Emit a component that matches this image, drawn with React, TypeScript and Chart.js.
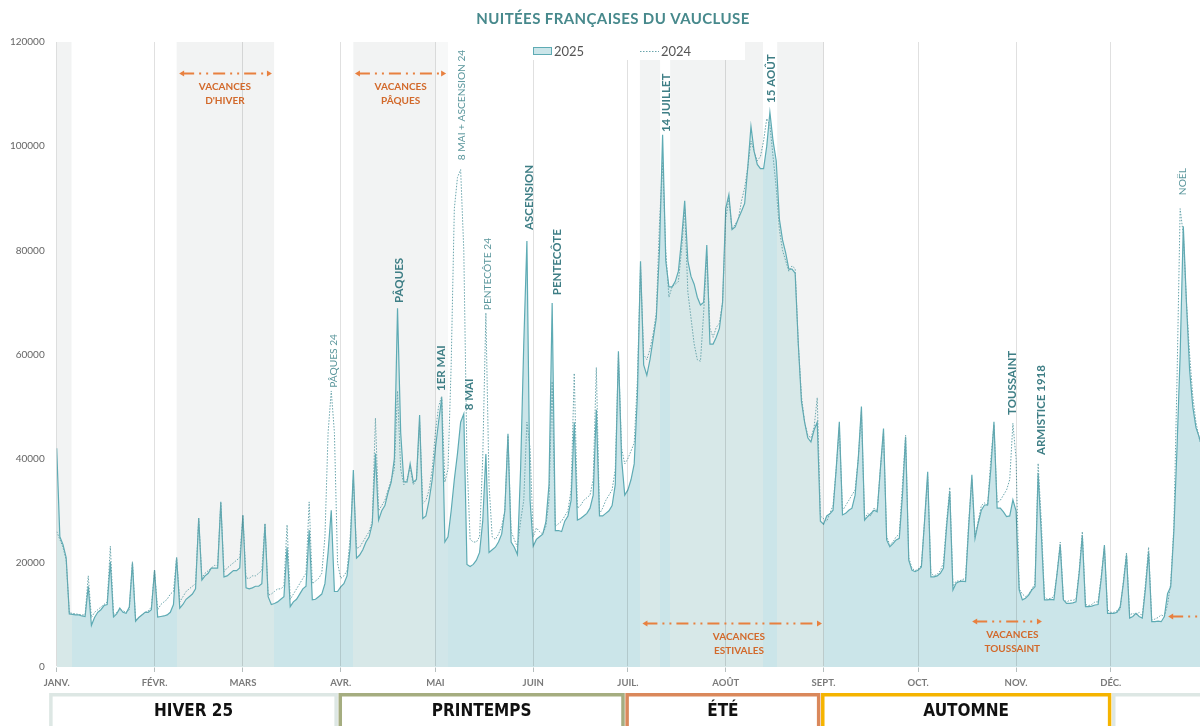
import React, { useEffect, useRef } from "react";
import { Chart, registerables } from "chart.js";

Chart.register(...registerables);

const TITLE = "NUITÉES FRANÇAISES DU VAUCLUSE";
const MONTH_LABELS = ["JANV.", "FÉVR.", "MARS", "AVR.", "MAI", "JUIN", "JUIL.", "AOÛT", "SEPT.", "OCT.", "NOV.", "DÉC."];
const MONTH_START_DAYS = [0, 31, 59, 90, 120, 151, 181, 212, 243, 273, 304, 334];
const Y_TICKS = [0, 20000, 40000, 60000, 80000, 100000, 120000];
const LABEL_2025 = "2025";
const LABEL_2024 = "2024";

// daily values, index 0 = 1 January
const NUITEES_2025 = [
  42000, 25000, 23500, 21000, 10200, 10100, 10000,
  10000, 9800, 9700, 15500, 8000, 9500, 10500,
  11000, 11800, 12000, 20200, 9600, 10200, 11300,
  10500, 10300, 11500, 20000, 8800, 9500, 10000,
  10500, 10500, 11000, 18600, 9600, 9700, 9800,
  10000, 10500, 12000, 21000, 11300, 12000, 13000,
  13500, 14000, 15000, 28600, 16700, 17500, 18000,
  19000, 19000, 19000, 31700, 17300, 17500, 18000,
  18500, 18500, 19000, 29200, 15200, 15000, 15200,
  15500, 15500, 16000, 27400, 13500, 12000, 12200,
  12500, 13000, 13500, 23000, 11600, 12500, 13000,
  14000, 15000, 15500, 26300, 12900, 13000, 13500,
  14000, 16000, 22000, 30100, 14500, 14500, 15400,
  16000, 17500, 23000, 37800, 20900, 21500, 22500,
  24000, 25000, 27500, 41000, 28200, 30000, 31000,
  33500, 35500, 40000, 68900, 45000, 35600, 35500,
  39000, 35500, 36000, 48400, 28500, 29000, 32000,
  36000, 42000, 47000, 51700, 24000, 25000, 30000,
  36000, 41000, 47000, 48600, 19700, 19300, 19700,
  20500, 22000, 28000, 40900, 22000, 22500, 23000,
  24000, 25500, 30000, 44800, 24000, 23000, 21600,
  38000, 62000, 81800, 32000, 23200, 24500, 25000,
  25500, 27800, 35000, 69900, 26200, 26200, 26000,
  28000, 29000, 32000, 47000, 28200, 28500, 29000,
  29500, 30500, 33000, 49400, 29000, 29000, 29500,
  30000, 31000, 35000, 60600, 40000, 33000, 34000,
  36000, 39000, 52000, 77900, 58000, 56000, 59000,
  63000, 67000, 80000, 102200, 78000, 73000, 73000,
  74000, 76000, 82000, 89500, 78000, 75000, 73500,
  71000, 69500, 70000, 81000, 62000, 62000, 63300,
  65000, 70000, 88000, 90700, 84000, 84500, 86100,
  87500, 89000, 96000, 103800, 99000, 96500, 95700,
  95700, 100000, 106500, 101000, 97200, 86000, 82000,
  79500, 76400, 76400, 75600, 62000, 51000, 47000,
  44000, 43200, 45500, 47000, 28000, 27400, 29000,
  29400, 30100, 38000, 47100, 29200, 29500, 30100,
  30500, 33000, 40000, 50000, 28200, 28900, 29500,
  30100, 29800, 38000, 45800, 24400, 23100, 23700,
  24400, 24700, 33000, 44200, 20500, 18600, 18300,
  18600, 19200, 28000, 37500, 17300, 17300, 17500,
  18000, 19000, 27000, 33700, 14800, 16100, 16400,
  16500, 16400, 27000, 36900, 24700, 27600, 30100,
  31100, 31100, 38000, 47100, 30500, 30500, 29800,
  28900, 29000, 32100, 30000, 14800, 12900, 13200,
  13800, 14800, 15400, 37200, 25600, 12900, 12900,
  13000, 12900, 18000, 23400, 12900, 12200, 12200,
  12300, 12500, 18000, 25300, 11600, 11600, 11700,
  11900, 12000, 17000, 23400, 10300, 10300, 10300,
  10500, 11600, 16000, 21500, 9400, 9700, 10300,
  9700, 9400, 15000, 22100, 8700, 8700, 8800,
  8700, 9700, 14100, 15400, 26000, 42000, 60000,
  84600, 70000, 57000, 50000, 46000, 44200, 42000,
  40000,
];

const NUITEES_2024 = [
  26000, 24500, 23000, 20500, 10400, 10300, 10200,
  10100, 10000, 10000, 17500, 9500, 10500, 11000,
  11500, 12000, 12500, 23200, 10000, 10500, 11000,
  10800, 10500, 11000, 20200, 9000, 9500, 10000,
  10500, 10800, 11500, 18500, 11000, 12000, 12500,
  13000, 14000, 14500, 21000, 12500, 13500, 14500,
  15000, 15500, 16000, 28500, 17000, 18000, 18500,
  19000, 19500, 19500, 31500, 18300, 19000, 19500,
  20000, 20500, 21000, 29000, 17100, 17000, 17500,
  17500, 18000, 18500, 27600, 13800, 14000, 14500,
  15000, 15000, 15500, 27300, 13000, 14000, 15000,
  16000, 17000, 18000, 31700, 16000, 16500, 17000,
  18000, 25000, 45000, 53000, 45000, 20000, 17000,
  17500, 18500, 25000, 36000, 22800, 23000, 24000,
  25000, 26000, 28000, 47800, 30000, 31000, 32000,
  34000, 36000, 38000, 53000, 38000, 35000, 36000,
  38500, 35000, 36000, 47000, 31400, 32000, 34000,
  38000, 45000, 50000, 52000, 35500, 38000, 58000,
  88000, 94000, 95500, 80000, 40000, 24500, 24000,
  24000, 25000, 40000, 68000, 35000, 25000, 24500,
  25500, 27000, 30000, 44400, 26000, 24500, 23000,
  28000, 32000, 47000, 42000, 25000, 26700, 26000,
  25500, 27000, 32000, 54800, 27000, 27500, 28000,
  29000, 30000, 34000, 56400, 30500, 31000, 32000,
  32500, 33000, 36000, 57500, 29400, 30500, 32000,
  33000, 34000, 38000, 60000, 42000, 39000, 40000,
  41500, 43000, 55000, 77000, 60000, 59000, 61000,
  64000, 68000, 85000, 97000, 80000, 71000, 73000,
  73500, 74000, 80000, 88000, 72000, 67000, 62000,
  59000, 58700, 68000, 79000, 65000, 63300, 65200,
  66000, 70000, 86000, 90000, 84000, 85000, 86000,
  89500, 92000, 96000, 101000, 99000, 97200, 98000,
  101000, 105300, 104000, 98000, 92000, 84000, 80000,
  78000, 76000, 77000, 76500, 62000, 52000, 47000,
  44500, 44000, 46000, 51700, 29000, 28500, 28000,
  29500, 31000, 38000, 46000, 30000, 31000, 32000,
  33000, 34000, 40000, 49000, 28500, 29500, 29000,
  30500, 30000, 38000, 45000, 25000, 23500, 24000,
  25000, 25500, 35000, 44500, 21000, 19000, 18500,
  18800, 19500, 28000, 36500, 18000, 17500, 17800,
  18500, 20000, 28000, 34500, 15500, 16500, 16500,
  16800, 17000, 28000, 36000, 25000, 28000, 31000,
  31500, 31000, 40000, 46500, 31500, 32000, 33000,
  34000, 36000, 46800, 40000, 15000, 14000, 13500,
  14000, 15000, 16000, 39100, 28000, 13500, 13000,
  13200, 13500, 18000, 24000, 13000, 12500, 12800,
  12800, 13000, 18500, 26000, 12000, 11800, 12000,
  12500, 12500, 17500, 23000, 11000, 10500, 10500,
  10800, 11000, 16500, 22000, 10000, 10300, 10000,
  10500, 9800, 16000, 23000, 9000, 9200, 9500,
  10000, 9700, 12000, 16000, 27000, 55000, 88000,
  83000, 70000, 60000, 52000, 47000, 44000, 42000,
  40000,
];

// school holiday shading, in days of the year
const VACATION_BANDS = [
  { from: 0, to: 4.7, tone: "main" },
  { from: 38, to: 68.9, tone: "main" },
  { from: 94, to: 119.9, tone: "main" },
  { from: 119.9, to: 124, tone: "light" },
  { from: 184.8, to: 191.2, tone: "main" },
  { from: 194.4, to: 223.8, tone: "main" },
  { from: 228.3, to: 243, tone: "main" },
];

const HOLIDAY_LABELS = [
  { text: "PÂQUES 24", day: 87.6, base: 53600, bold: false },
  { text: "PÂQUES", day: 108.5, base: 69900, bold: true },
  { text: "1ER MAI", day: 121.6, base: 53000, bold: true },
  { text: "8 MAI + ASCENSION 24", day: 128.3, base: 97300, bold: false },
  { text: "8 MAI", day: 130.5, base: 49300, bold: true },
  { text: "PENTECÔTE 24", day: 136.4, base: 68500, bold: false },
  { text: "ASCENSION", day: 149.6, base: 83900, bold: true },
  { text: "PENTECÔTE", day: 158.5, base: 71400, bold: true },
  { text: "14 JUILLET", day: 193.1, base: 102700, bold: true },
  { text: "15 AOÛT", day: 226.2, base: 108300, bold: true },
  { text: "TOUSSAINT", day: 302.6, base: 48400, bold: true },
  { text: "ARMISTICE 1918", day: 311.7, base: 40700, bold: true },
  { text: "NOËL", day: 356.5, base: 90600, bold: false },
];

const VACATION_ARROWS = [
  { from: 38.8, to: 68.2, value: 114000, textDay: 53.3, lines: ["VACANCES", "D'HIVER"] },
  { from: 94.5, to: 123.4, value: 114000, textDay: 109, lines: ["VACANCES", "PÂQUES"] },
  { from: 185.6, to: 242.5, value: 8450, textDay: 216.2, lines: ["VACANCES", "ESTIVALES"] },
  { from: 290.1, to: 312.2, value: 8830, textDay: 302.8, lines: ["VACANCES", "TOUSSAINT"] },
  { from: 352.2, to: 372, value: 9800, textDay: 380, lines: [] },
];

const SEASONS = [
  { label: "HIVER 25", from: -2.4, to: 89.1, color: "#dde7e4" },
  { label: "PRINTEMPS", from: 89.3, to: 180, color: "#a5ad80" },
  { label: "ÉTÉ", from: 180.2, to: 242, color: "#da885b" },
  { label: "AUTOMNE", from: 242.2, to: 334.2, color: "#f5b400" },
  { label: "", from: 334.4, to: 372, color: "#dde7e4" },
];

const FILL_2025 = "#cbe5e9";
const LINE_2025 = "#5eabb4";
const LINE_2024 = "#6aa5ac";
const BAND_BG: Record<string, string> = { main: "#f2f3f3", light: "#f7f8f8" };
const BAND_FILL: Record<string, string> = { main: "#d7e8e8", light: "#d1e6e9" };
const TEAL_TEXT = "#3e7e85";
const TEAL_THIN = "#5a969c";
const ORANGE = "#e8803f";
const ORANGE_TEXT = "#d2692b";

function fillGradient(chart: any) {
  const area = chart.chartArea;
  if (!area) return FILL_2025;
  const xs = chart.scales.x;
  const w = area.right - area.left;
  const g = chart.ctx.createLinearGradient(area.left, 0, area.right, 0);
  const clamp = (t: number) => Math.min(1, Math.max(0, t));
  g.addColorStop(0, FILL_2025);
  const sorted = [...VACATION_BANDS].sort((a, b) => a.from - b.from);
  for (const b of sorted) {
    const t0 = clamp((xs.getPixelForValue(b.from) - area.left) / w);
    const t1 = clamp((xs.getPixelForValue(b.to) - area.left) / w);
    g.addColorStop(t0, FILL_2025);
    g.addColorStop(t0, BAND_FILL[b.tone]);
    g.addColorStop(t1, BAND_FILL[b.tone]);
    g.addColorStop(t1, FILL_2025);
  }
  g.addColorStop(1, FILL_2025);
  return g;
}

function arrowHead(ctx: CanvasRenderingContext2D, x: number, y: number, dir: number) {
  ctx.beginPath();
  ctx.moveTo(x, y);
  ctx.lineTo(x - dir * 5, y - 3);
  ctx.lineTo(x - dir * 5, y + 3);
  ctx.closePath();
  ctx.fill();
}

const decorPlugin = {
  id: "decor",
  beforeDraw(chart: any) {
    const { ctx, chartArea } = chart;
    const xs = chart.scales.x;
    ctx.save();
    for (const b of VACATION_BANDS) {
      const x0 = xs.getPixelForValue(b.from);
      const x1 = xs.getPixelForValue(b.to);
      ctx.fillStyle = BAND_BG[b.tone];
      ctx.fillRect(x0, chartArea.top, x1 - x0, chartArea.bottom - chartArea.top);
    }
    ctx.restore();
  },
  afterDraw(chart: any) {
    const { ctx, chartArea } = chart;
    const xs = chart.scales.x;
    const ys = chart.scales.y;
    ctx.save();

    // clear a stray line at the very top edge
    ctx.fillStyle = "#ffffff";
    ctx.fillRect(0, 0, chart.width, 4);

    // holiday labels (vertical)
    for (const l of HOLIDAY_LABELS) {
      const x = xs.getPixelForValue(l.day);
      const y = ys.getPixelForValue(l.base);
      ctx.save();
      ctx.translate(x, y);
      ctx.rotate(-Math.PI / 2);
      ctx.font = l.bold ? "bold 11.5px Lato" : "10.2px Lato";
      ctx.fillStyle = l.bold ? TEAL_TEXT : TEAL_THIN;
      ctx.textAlign = "left";
      ctx.textBaseline = "middle";
      ctx.fillText(l.text, 0, 0.5);
      ctx.restore();
    }

    // vacation arrows
    for (const a of VACATION_ARROWS) {
      const x0 = xs.getPixelForValue(a.from);
      const x1 = xs.getPixelForValue(a.to);
      const y = Math.round(ys.getPixelForValue(a.value)) + 0.5;
      ctx.strokeStyle = ORANGE;
      ctx.fillStyle = ORANGE;
      ctx.lineWidth = 2;
      ctx.setLineDash([12, 5, 2, 5, 2, 5]);
      ctx.beginPath();
      ctx.moveTo(x0 + 3, y);
      ctx.lineTo(x1 - 3, y);
      ctx.stroke();
      ctx.setLineDash([]);
      arrowHead(ctx, x0, y, -1);
      arrowHead(ctx, x1, y, 1);
      const tx = xs.getPixelForValue(a.textDay);
      ctx.font = "bold 10px Lato";
      ctx.fillStyle = ORANGE_TEXT;
      ctx.textAlign = "center";
      ctx.textBaseline = "middle";
      a.lines.forEach((t, i) => ctx.fillText(t, tx, y + 13 + i * 14));
    }

    // legend
    ctx.fillStyle = "#ffffff";
    ctx.fillRect(530, chartArea.top - 1, 215, 19);
    ctx.fillStyle = FILL_2025;
    ctx.fillRect(533, 47, 19, 8);
    ctx.strokeStyle = LINE_2025;
    ctx.lineWidth = 1;
    ctx.strokeRect(533.5, 47.5, 18, 7);
    ctx.font = "13px Lato";
    ctx.fillStyle = "#555555";
    ctx.textAlign = "left";
    ctx.textBaseline = "middle";
    ctx.fillText(LABEL_2025, 554, 51.5);
    ctx.strokeStyle = LINE_2024;
    ctx.setLineDash([1.5, 1.5]);
    ctx.beginPath();
    ctx.moveTo(640, 51.5);
    ctx.lineTo(659, 51.5);
    ctx.stroke();
    ctx.setLineDash([]);
    ctx.fillText(LABEL_2024, 661, 51.5);

    // title
    ctx.font = "bold 15px Lato";
    ctx.letterSpacing = "0.4px";
    ctx.fillStyle = "#47898c";
    ctx.textAlign = "center";
    ctx.fillText(TITLE, 613, 19.5);
    ctx.letterSpacing = "0px";

    // seasons
    const top = 693;
    for (const s of SEASONS) {
      const x0 = xs.getPixelForValue(s.from);
      const x1 = xs.getPixelForValue(s.to);
      ctx.strokeStyle = s.color;
      ctx.lineWidth = 3.5;
      ctx.strokeRect(x0 + 1.75, top + 1.75, x1 - x0 - 3.5, 60);
      if (s.label) {
        ctx.font = 'bold 17px "DejaVu Sans Condensed", "Liberation Sans Narrow", sans-serif';
        ctx.fillStyle = "#111111";
        ctx.textAlign = "center";
        ctx.textBaseline = "middle";
        ctx.fillText(s.label, (x0 + x1) / 2, 712);
      }
    }
    ctx.restore();
  },
};

export default function App() {
  const ref = useRef<HTMLCanvasElement>(null);
  useEffect(() => {
    const canvas = ref.current;
    if (!canvas) return;
    const chart = new Chart(canvas, {
      type: "line",
      data: {
        datasets: [
          {
            label: LABEL_2024,
            data: NUITEES_2024.map((v, i) => ({ x: i, y: v })),
            borderColor: LINE_2024,
            borderWidth: 1,
            borderDash: [1.5, 1.5],
            pointRadius: 0,
            fill: false,
            tension: 0,
          },
          {
            label: LABEL_2025,
            data: NUITEES_2025.map((v, i) => ({ x: i, y: v })),
            borderColor: LINE_2025,
            borderWidth: 1.2,
            pointRadius: 0,
            fill: "origin",
            backgroundColor: (c: any) => fillGradient(c.chart),
            tension: 0,
          },
        ],
      },
      options: {
        responsive: false,
        animation: false,
        events: [],
        layout: { padding: { left: 0, right: 4.6, top: 42, bottom: 0 } },
        plugins: { legend: { display: false }, tooltip: { enabled: false }, title: { display: false } },
        scales: {
          x: {
            type: "linear",
            min: 0,
            max: 364,
            afterBuildTicks: (s: any) => {
              s.ticks = MONTH_START_DAYS.map((v) => ({ value: v }));
            },
            afterFit: (s: any) => {
              s.height = 59;
            },
            ticks: {
              autoSkip: false,
              maxRotation: 0,
              padding: 5,
              color: "#7a7a7a",
              font: { family: "Lato", size: 9.5, weight: "bold" },
              callback: (v: any) => MONTH_LABELS[MONTH_START_DAYS.indexOf(Number(v))] ?? "",
            },
            grid: {
              color: "rgba(0,0,0,0.12)",
              tickColor: "#b5bebe",
              tickLength: 5,
              z: 1,
            },
            border: { color: "#bcc5c5", width: 1.5 },
          },
          y: {
            min: 0,
            max: 120000,
            afterBuildTicks: (s: any) => {
              s.ticks = Y_TICKS.map((v) => ({ value: v }));
            },
            afterFit: (s: any) => {
              s.width = 56.7;
            },
            ticks: {
              padding: 12,
              color: "#666666",
              font: { family: "Lato", size: 10 },
              callback: (v: any) => String(v),
            },
            grid: { display: false, drawTicks: false },
            border: { display: false },
          },
        },
      },
      plugins: [decorPlugin],
    } as any);
    return () => chart.destroy();
  }, []);
  return (
    <div style={{ position: "absolute", left: 0, top: 0, width: 1200, height: 726, overflow: "hidden", background: "#fff" }}>
      <canvas ref={ref} width={1210} height={726} style={{ display: "block", width: 1210, height: 726 }} />
    </div>
  );
}
